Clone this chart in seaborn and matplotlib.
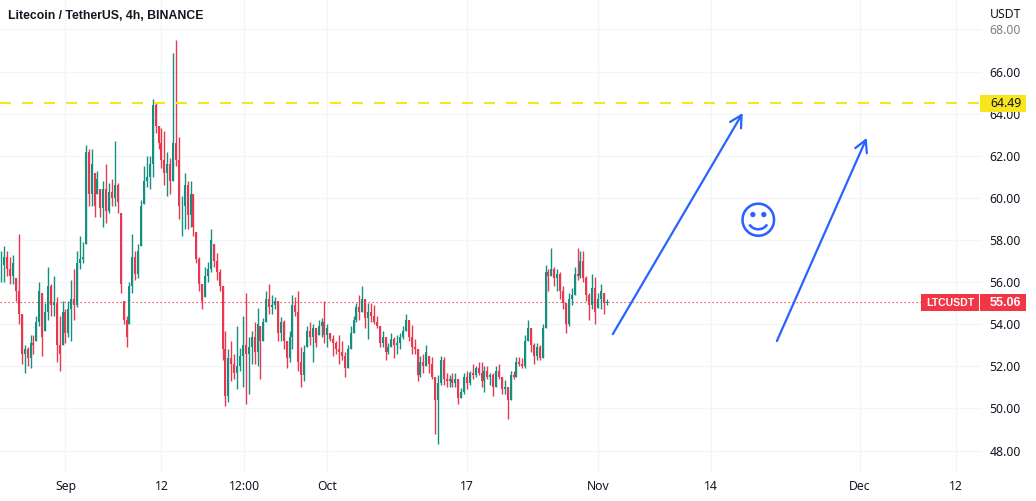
import numpy as np
import pandas as pd
import matplotlib.pyplot as plt
from matplotlib.patches import Rectangle
import seaborn as sns

sns.set_theme(style="white")
plt.rcParams["font.family"] = ["Noto Sans", "DejaVu Sans"]

# candle values, 10 per row
highs = [
    57.5, 57.7, 57.5, 57.2, 57.3, 56.2, 58.3, 54.5, 53.0, 52.9,
    53.5, 53.5, 54.4, 56.0, 55.5, 55.0, 56.7, 55.9, 56.3, 55.3,
    54.4, 55.1, 54.7, 55.1, 56.1, 56.6, 57.5, 58.2, 57.9, 62.5,
    62.3, 62.3, 61.2, 61.3, 60.4, 60.8, 61.6, 60.7, 60.9, 62.7,
    60.7, 59.3, 55.1, 54.4, 56.0, 58.3, 57.5, 57.8, 59.9, 61.5,
    62.0, 62.0, 64.7, 64.5, 63.4, 63.3, 63.2, 62.2, 61.9, 66.9,
    67.5, 62.9, 60.1, 61.2, 60.8, 60.8, 60.2, 58.4, 57.2, 55.9,
    56.7, 56.95, 58.5, 57.8, 57.4, 56.6, 55.8, 53.7, 52.8, 53.2,
    52.6, 53.9, 52.85, 54.4, 55.5, 53.4, 53.7, 54.1, 54.75, 53.9,
    54.3, 55.6, 55.9, 55.4, 55.3, 55.1, 54.35, 54.2, 53.2, 53.7,
    55.4, 55.3, 55.6, 52.9, 53.0, 53.9, 54.1, 54.0, 53.8, 54.2,
    54.3, 55.1, 54.0, 53.6, 53.5, 53.2, 53.5, 53.2, 52.7, 53.0,
    53.9, 54.4, 55.0, 55.4, 55.8, 55.2, 55.0, 55.0, 54.9, 54.4,
    53.9, 53.7, 53.4, 53.1, 53.6, 53.4, 53.5, 53.6, 53.9, 54.5,
    54.2, 53.95, 53.3, 52.8, 52.5, 52.6, 53.0, 52.5, 52.45, 51.5,
    51.6, 52.5, 52.45, 51.7, 51.6, 51.7, 51.7, 51.4, 50.95, 51.7,
    51.8, 51.8, 52.1, 52.0, 52.2, 52.2, 52.0, 52.0, 51.7, 51.7,
    52.0, 52.1, 51.5, 51.35, 51.0, 51.8, 51.8, 52.45, 52.45, 52.4,
    53.5, 54.2, 53.8, 53.1, 53.1, 53.0, 54.0, 56.8, 56.6, 57.6,
    56.7, 56.6, 56.5, 55.8, 55.0, 55.5, 55.7, 56.7, 57.6, 57.5,
    57.5, 56.3, 55.5, 56.4, 56.25, 55.5, 55.9, 55.5, 55.2,
]
lows = [
    56.0, 56.0, 56.3, 55.9, 55.9, 55.1, 54.0, 52.1, 51.7, 52.0,
    51.9, 52.6, 53.2, 53.9, 52.5, 53.7, 54.2, 54.4, 54.4, 52.2,
    51.8, 53.0, 53.1, 53.4, 53.2, 54.2, 54.8, 56.6, 56.9, 57.8,
    59.6, 59.6, 59.1, 60.2, 59.1, 58.6, 58.8, 59.3, 59.6, 59.6,
    59.3, 55.5, 54.0, 52.9, 54.0, 55.5, 56.1, 56.2, 57.7, 59.7,
    60.5, 60.4, 61.0, 63.1, 62.3, 61.4, 60.6, 60.1, 60.2, 60.8,
    61.5, 59.0, 58.2, 58.5, 58.5, 58.6, 58.2, 56.9, 55.6, 54.7,
    55.3, 56.0, 56.5, 56.7, 56.1, 55.6, 52.3, 50.1, 50.3, 51.3,
    51.4, 50.9, 51.8, 51.0, 50.2, 50.7, 52.1, 52.1, 52.0, 51.4,
    53.2, 54.1, 54.5, 54.5, 54.7, 53.2, 53.2, 52.8, 51.9, 52.2,
    52.8, 54.4, 51.8, 51.0, 51.3, 52.9, 53.0, 52.2, 52.9, 53.5,
    53.4, 53.1, 52.9, 53.2, 52.5, 52.6, 52.1, 52.3, 51.5, 51.9,
    52.8, 53.6, 54.1, 54.2, 54.6, 53.8, 53.3, 54.1, 54.0, 53.8,
    52.9, 52.9, 52.3, 52.6, 52.9, 52.4, 52.6, 52.8, 53.3, 53.7,
    53.2, 52.6, 52.6, 51.3, 51.5, 51.7, 52.0, 51.7, 51.4, 48.8,
    48.3, 51.1, 51.1, 51.0, 51.0, 51.0, 51.0, 50.2, 50.5, 50.7,
    50.9, 51.1, 51.4, 51.5, 51.6, 51.0, 50.8, 51.4, 51.1, 50.6,
    51.0, 51.4, 50.7, 50.7, 49.5, 50.4, 51.4, 51.5, 52.0, 51.9,
    51.9, 53.2, 52.7, 52.1, 52.3, 52.3, 52.4, 53.8, 55.6, 56.3,
    55.8, 55.6, 55.2, 54.7, 53.6, 53.9, 54.9, 55.4, 56.1, 56.2,
    56.0, 55.1, 54.2, 54.7, 54.0, 54.75, 54.7, 54.5, 54.9,
]
closes = [
    56.8, 57.2, 56.6, 56.3, 56.9, 55.6, 54.5, 52.6, 52.8, 52.4,
    53.1, 53.0, 54.1, 55.6, 53.4, 54.6, 55.8, 54.9, 55.0, 53.0,
    52.6, 54.6, 53.6, 54.7, 55.2, 54.9, 56.9, 57.1, 57.2, 62.2,
    60.2, 61.6, 59.6, 60.9, 59.5, 60.4, 59.4, 60.3, 60.0, 60.6,
    59.8, 55.9, 54.2, 53.4, 55.8, 57.2, 56.4, 57.5, 59.6, 60.8,
    61.0, 61.6, 64.4, 63.4, 62.6, 61.8, 61.2, 61.6, 60.8, 62.6,
    61.8, 59.6, 59.6, 60.6, 59.2, 60.2, 58.6, 57.1, 55.9, 55.1,
    56.3, 56.6, 58.0, 57.0, 56.5, 55.8, 52.8, 50.6, 52.4, 52.1,
    51.7, 52.0, 52.5, 53.0, 52.6, 52.9, 53.4, 52.7, 54.0, 53.2,
    54.1, 55.2, 54.8, 54.9, 55.1, 53.6, 54.1, 53.2, 52.4, 53.4,
    54.9, 54.6, 52.2, 51.6, 52.7, 53.7, 53.4, 53.8, 53.1, 53.9,
    54.1, 53.5, 53.8, 53.3, 53.1, 52.8, 52.7, 52.5, 51.9, 52.8,
    53.6, 54.2, 54.8, 54.6, 55.2, 54.3, 54.6, 54.4, 54.1, 53.9,
    53.1, 53.4, 52.7, 52.9, 53.3, 53.0, 53.1, 53.4, 53.7, 54.2,
    53.4, 52.9, 52.8, 51.6, 52.2, 52.0, 52.7, 52.1, 51.5, 50.4,
    51.2, 52.3, 51.4, 51.3, 51.4, 51.2, 51.4, 50.5, 50.8, 51.5,
    51.2, 51.7, 51.6, 51.9, 51.7, 51.3, 51.8, 51.5, 51.6, 51.0,
    51.8, 51.5, 50.9, 51.0, 50.4, 51.6, 51.5, 52.2, 52.1, 52.0,
    53.2, 53.8, 53.0, 52.5, 52.9, 52.4, 53.8, 56.5, 56.3, 56.6,
    56.2, 56.4, 55.6, 55.0, 54.0, 55.2, 55.4, 56.4, 56.3, 57.0,
    56.2, 55.4, 54.9, 55.7, 54.6, 55.2, 55.6, 55.0, 55.06,
]

price_ticks = [68, 66, 64, 62, 60, 58, 56, 54, 52, 50, 48]
date_ticks = ["2022-09-01", "2022-09-12", "2022-09-21 12:00", "2022-10-01", "2022-10-17",
              "2022-11-01", "2022-11-14", "2022-12-01", "2022-12-12"]
date_labels = ["Sep", "12", "12:00", "Oct", "17", "Nov", "14", "Dec", "12"]

level_price = 64.49
last_price = 55.06

# drawn arrows: start date, start price, end date, end price
arrow_one = ["2022-11-02 17:00", 53.53, "2022-11-17 14:00", 64.03]
arrow_two = ["2022-11-21 12:00", 53.2, "2022-12-01 19:00", 62.85]
smile_at = ["2022-11-19 09:00", 58.82]

up_col = "#148F80"
down_col = "#E8384F"
label_red = "#F23645"
blue = "#2962FF"
grid_col = "#F4F5F8"
text_col = "#131722"

W, H = 1036, 501

# table for seaborn
dates = pd.date_range("2022-08-24 16:00", periods=len(highs), freq="8h")
df = pd.DataFrame({"date": dates, "high": highs, "low": lows, "close": closes})
df["open"] = df["close"].shift(1).fillna(df["close"])
df["open"] = df["open"].clip(df["low"], df["high"])
df["candle"] = range(len(df))
df["direction"] = np.where(df["close"] >= df["open"], "up", "down")

wicks = df.melt(id_vars=["candle", "date", "direction"], value_vars=["low", "high"], value_name="price")
bodies = df.melt(id_vars=["candle", "date", "direction"], value_vars=["open", "close"], value_name="price")
palette = {"up": up_col, "down": down_col}

fig = plt.figure(figsize=(W / 100, H / 100), dpi=100)
ax = fig.add_axes([0, 29 / H, 982 / W, 472 / H])

sns.lineplot(data=wicks, x="date", y="price", hue="direction", units="candle", estimator=None,
             palette=palette, linewidth=1.0, legend=False, solid_capstyle="butt", ax=ax, zorder=3)
sns.lineplot(data=bodies, x="date", y="price", hue="direction", units="candle", estimator=None,
             palette=palette, linewidth=1.45, legend=False, solid_capstyle="butt", ax=ax, zorder=3)

ax.axhline(level_price, color="#F7E51E", linewidth=1.5, linestyle=(0, (5.28, 5.28)), zorder=4)
ax.plot([pd.Timestamp("2022-08-24 12:00"), pd.Timestamp("2022-12-10 12:00")], [last_price, last_price],
        color=label_red, linewidth=0.8, linestyle=(0, (1.2, 2.4)), zorder=2)

for a in [arrow_one, arrow_two]:
    ax.annotate("", xy=(pd.Timestamp(a[2]), a[3]), xytext=(pd.Timestamp(a[0]), a[1]),
                arrowprops=dict(arrowstyle="->,head_length=0.7,head_width=0.38", color=blue, lw=1.6,
                                shrinkA=0, shrinkB=0), zorder=5)

ax.text(pd.Timestamp(smile_at[0]), smile_at[1], "\u263a", color=blue, fontsize=28, ha="center", va="center",
        family="DejaVu Sans", zorder=5)

ax.set_xlim(pd.Timestamp("2022-08-24 12:00"), pd.Timestamp("2022-12-15"))
ax.set_ylim(46.98, 69.40)
ax.set_xticks(pd.to_datetime(date_ticks, format="ISO8601"))
ax.set_xticklabels(date_labels)
ax.set_yticks(price_ticks)
ax.set_yticklabels([f"{p:.2f}" for p in price_ticks])
ax.yaxis.tick_right()
ax.tick_params(axis="y", length=0, pad=5.5, labelsize=8.8, labelcolor=text_col)
ax.tick_params(axis="x", length=0, pad=5.5, labelsize=8.8, labelcolor=text_col)
ax.get_yticklabels()[0].set_alpha(0.55)
ax.set_xlabel("")
ax.set_ylabel("")
ax.grid(True, color=grid_col, linewidth=1)
ax.set_axisbelow(True)
sns.despine(ax=ax, left=True, bottom=True, right=True, top=True)


def px_box(x0, y0, x1, y1, color):
    # box in picture pixels
    fig.add_artist(Rectangle((x0 / W, 1 - y1 / H), (x1 - x0) / W, (y1 - y0) / H, transform=fig.transFigure,
                             facecolor=color, edgecolor="none", zorder=2))


def px_text(x, y, s, **kw):
    fig.text(x / W, 1 - y / H, s, va="center", zorder=3, **kw)


px_text(8, 16, "Litecoin / TetherUS, 4h, BINANCE", fontsize=8.8, fontweight="bold", family="Liberation Sans",
        color=text_col, ha="left")
px_text(990, 14, "USDT", fontsize=8.8, color=text_col, ha="left")

px_box(980, 95, 1026, 112, "#F7E51E")
px_text(990, 103.5, f"{level_price:.2f}", fontsize=8.8, color=text_col, ha="left")

px_box(921, 294, 979, 311, label_red)
px_text(950, 302.5, "LTCUSDT", fontsize=7.6, color="white", ha="center", fontweight="bold", family="Liberation Sans")
px_box(980, 294, 1026, 311, label_red)
px_text(990, 302.5, f"{last_price:.2f}", fontsize=9.0, color="white", ha="left", fontweight="bold",
        family="Liberation Sans")

fig.savefig("out.png", dpi=100)
